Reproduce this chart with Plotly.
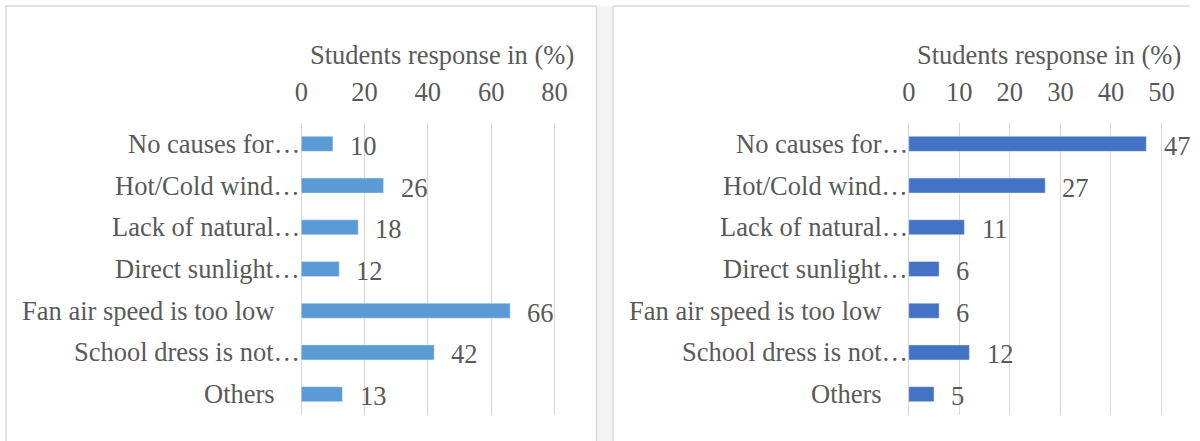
import plotly.graph_objects as go

categories = ["No causes for…", "Hot/Cold wind…", "Lack of natural…", "Direct sunlight…",
              "Fan air speed is too low", "School dress is not…", "Others"]
truncated = [True, True, True, True, False, True, False]
left_values = [10, 26, 18, 12, 66, 42, 13]
right_values = [47, 27, 11, 6, 6, 12, 5]
left_ticks = [0, 20, 40, 60, 80]
right_ticks = [0, 10, 20, 30, 40, 50]
axis_title = "Students response in (%)"

FONT = "Liberation Serif, Times New Roman, serif"
TXT = "#595959"
GRID = "#D9D9D9"
FS = 26.5
W, H = 1200, 441

# the page is photographed slightly narrower than laid out; map target pixel x to layout x
SX, OX = 0.9875, 5.0


def X(px):
    return (px - OX) / SX


def D(px):
    return px / SX


def dom_range(px0, px1, vmax, pad=3):
    a, b = X(px0), X(px1)
    upp = vmax / (b - a)
    return [(a - pad) / W, (b + pad) / W], [-pad * upp, vmax + pad * upp]


ldom, lrng = dom_range(302, 555, 80)
rdom, rrng = dom_range(909, 1161.5, 50)

fig = go.Figure()
fig.add_trace(go.Bar(x=left_values, y=categories, orientation="h", marker_color="#5B9BD5",
                     width=0.36, xaxis="x", yaxis="y", showlegend=False, hoverinfo="skip"))
fig.add_trace(go.Bar(x=right_values, y=categories, orientation="h", marker_color="#4472C4",
                     width=0.36, xaxis="x2", yaxis="y2", showlegend=False, hoverinfo="skip"))

ydom = [(H - 415) / H, (H - 123) / H]
common_x = dict(side="top", showgrid=True, gridcolor=GRID, gridwidth=1.3, zeroline=False,
                showline=False, ticks="", tickfont=dict(family=FONT, size=FS, color=TXT),
                ticklabelstandoff=16, fixedrange=True)
common_y = dict(autorange="reversed", showticklabels=False, showgrid=False, zeroline=False,
                showline=False, ticks="", fixedrange=True, domain=ydom)

fig.update_layout(
    width=W, height=H, autosize=False, margin=dict(l=0, r=0, t=0, b=0, pad=0),
    paper_bgcolor="white", plot_bgcolor="rgba(0,0,0,0)",
    font=dict(family=FONT, size=FS, color=TXT),
    xaxis=dict(common_x, domain=ldom, range=lrng, tickvals=left_ticks, anchor="y"),
    yaxis=dict(common_y, anchor="x"),
    xaxis2=dict(common_x, domain=rdom, range=rrng, tickvals=right_ticks, anchor="y2"),
    yaxis2=dict(common_y, anchor="x2"),
    bargap=0.64,
)

annotations = []
for xr, yr, vals in (("x", "y", left_values), ("x2", "y2", right_values)):
    for cat, trunc, v in zip(categories, truncated, vals):
        annotations.append(dict(x=0, y=cat, xref=xr, yref=yr, text=cat, showarrow=False,
                                xanchor="right", yanchor="middle", xshift=(D(1) if trunc else D(-24)),
                                font=dict(family=FONT, size=FS, color=TXT)))
        annotations.append(dict(x=v, y=cat, xref=xr, yref=yr, text=str(v), showarrow=False,
                                xanchor="left", yanchor="middle", xshift=D(15), yshift=-2,
                                font=dict(family=FONT, size=FS, color=TXT)))
annotations.append(dict(x=X(443) / W, y=(H - 55) / H, xref="paper", yref="paper", text=axis_title,
                        showarrow=False, xanchor="center", yanchor="middle",
                        font=dict(family=FONT, size=FS, color=TXT)))
annotations.append(dict(x=X(1049) / W, y=(H - 55) / H, xref="paper", yref="paper", text=axis_title,
                        showarrow=False, xanchor="center", yanchor="middle",
                        font=dict(family=FONT, size=FS, color=TXT)))
fig.update_layout(annotations=annotations)

top = (H - 6) / H
bline = dict(color=GRID, width=1.5)
shapes = [
    dict(type="rect", xref="paper", yref="paper", x0=X(597.5) / W, x1=X(613) / W, y0=0, y1=top,
         fillcolor="#F3F3F3", line=dict(width=0), layer="below"),
    dict(type="line", xref="paper", yref="paper", x0=X(7) / W, x1=X(597) / W, y0=top, y1=top, line=bline),
    dict(type="line", xref="paper", yref="paper", x0=X(7) / W, x1=X(7) / W, y0=0, y1=top, line=bline),
    dict(type="line", xref="paper", yref="paper", x0=X(597) / W, x1=X(597) / W, y0=0, y1=top, line=bline),
    dict(type="line", xref="paper", yref="paper", x0=X(613.5) / W, x1=1, y0=top, y1=top, line=bline),
    dict(type="line", xref="paper", yref="paper", x0=X(613.5) / W, x1=X(613.5) / W, y0=0, y1=top, line=bline),
]
fig.update_layout(shapes=shapes)

fig.write_html("out.html", config={"displayModeBar": False})
